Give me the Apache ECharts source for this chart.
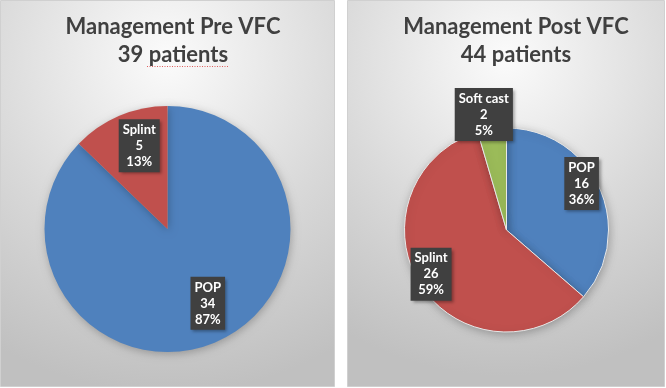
<!DOCTYPE html>
<html><head><meta charset="utf-8">
<script src="https://cdn.jsdelivr.net/npm/echarts@6/dist/echarts.min.js"></script>
<style>html,body{margin:0;padding:0;background:#fff}#c{width:666px;height:388px}</style>
</head><body><div id="c"></div>
<script>
// Data
const preTitle = 'Management Pre VFC';
const prePatients = 39;
const preCategories = ['POP', 'Splint'];
const preValues = [34, 5];

const postTitle = 'Management Post VFC';
const postPatients = 44;
const postCategories = ['POP', 'Splint', 'Soft cast'];
const postValues = [16, 26, 2];

const colorMap = { 'POP': '#4f81bd', 'Splint': '#c0504d', 'Soft cast': '#9bbb59' };

const preOffsets = [[15, 15], [-3, -24]];
const postOffsets = [[26, -24], [-30, 15], [-15, -62]];

const chart = echarts.init(document.getElementById('c'), null, { renderer: 'canvas' });

function panelBg() {
  return {
    type: 'radial', x: 0.5, y: 0.15, r: 1.0,
    colorStops: [
      { offset: 0, color: '#fbfbfb' },
      { offset: 0.55, color: '#d9d9d9' },
      { offset: 1, color: '#c0c0c0' }
    ]
  };
}

const labelStyle = {
  show: true,
  position: 'inside',
  formatter: '{b}\n{c}\n{d}%',
  color: '#ffffff',
  fontFamily: 'Lato',
  fontWeight: 'bold',
  fontSize: 13,
  lineHeight: 16,
  backgroundColor: '#404040',
  padding: [3, 4, 2, 4],
  align: 'center',
  shadowBlur: 3,
  shadowOffsetX: 2,
  shadowOffsetY: 2,
  shadowColor: 'rgba(0,0,0,0.35)'
};

function makeData(cats, vals, offs) {
  return cats.map((c, i) => ({
    name: c,
    value: vals[i],
    itemStyle: { color: colorMap[c] },
    label: { offset: offs[i] }
  }));
}

const titleText = {
  color: '#404040',
  fontFamily: 'Lato',
  fontWeight: 'bold',
  fontSize: 22,
  lineHeight: 28
};

chart.setOption({
  animation: false,
  backgroundColor: '#ffffff',
  graphic: [
    { type: 'rect', shape: { x: 0.5, y: 0.5, width: 334, height: 386 },
      style: { fill: panelBg(), stroke: '#d0d0d0', lineWidth: 1 }, z: -10 },
    { type: 'rect', shape: { x: 347.5, y: 0.5, width: 317, height: 386 },
      style: { fill: panelBg(), stroke: '#d0d0d0', lineWidth: 1 }, z: -10 },
    { type: 'polyline', shape: { points: [[147, 66.5], [229, 66.5]] },
      style: { stroke: '#e06060', lineWidth: 1, lineDash: [1, 1.5] }, z: 10 }
  ],
  title: [
    { text: preTitle + '\n' + prePatients + ' patients', left: 168, top: 8, textAlign: 'center', textStyle: titleText },
    { text: postTitle + '\n' + postPatients + ' patients', left: 511, top: 8, textAlign: 'center', textStyle: titleText }
  ],
  series: [
    {
      type: 'pie', center: [167.5, 229], radius: [0, 123],
      startAngle: 90, clockwise: true, percentPrecision: 0,
      label: labelStyle, labelLine: { show: false },
      itemStyle: { shadowBlur: 8, shadowColor: 'rgba(0,0,0,0.25)', shadowOffsetX: 1, shadowOffsetY: 2 },
      emphasis: { disabled: true },
      data: makeData(preCategories, preValues, preOffsets)
    },
    {
      type: 'pie', center: [506.5, 230], radius: [0, 102],
      startAngle: 90, clockwise: true, percentPrecision: 0,
      label: labelStyle, labelLine: { show: false },
      itemStyle: { borderColor: '#e8e8e8', borderWidth: 1, shadowBlur: 8, shadowColor: 'rgba(0,0,0,0.25)', shadowOffsetX: 1, shadowOffsetY: 2 },
      emphasis: { disabled: true },
      data: makeData(postCategories, postValues, postOffsets)
    }
  ]
});
</script>
</body></html>
